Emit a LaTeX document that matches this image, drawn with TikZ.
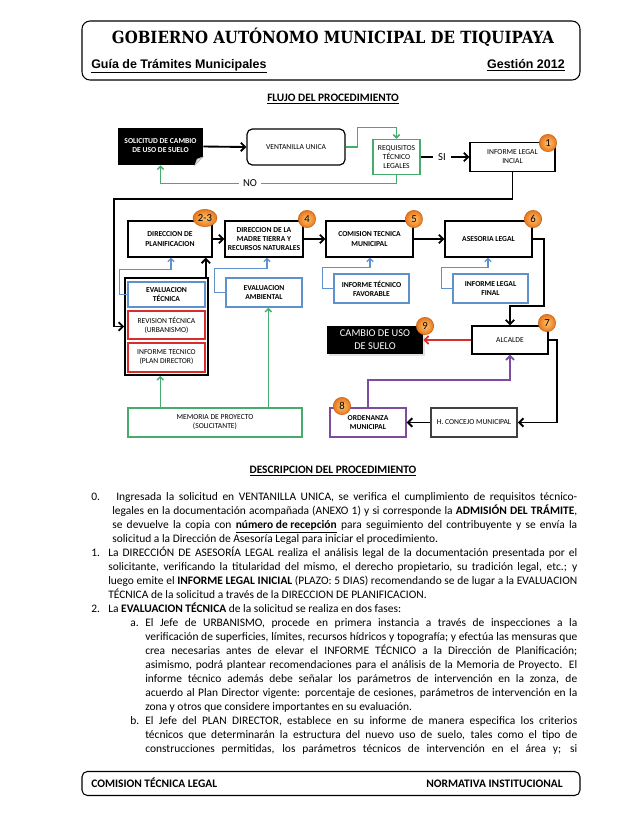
\documentclass[tikz,border=0pt]{standalone}
\usepackage{fontspec}
\setmainfont{Carlito}
\newfontfamily\arialf{Liberation Sans}
\newfontfamily\titlef{DejaVu Serif}
\usetikzlibrary{arrows.meta,shapes.geometric,calc,shadows}
\definecolor{grn}{RGB}{70,172,110}
\definecolor{blu}{RGB}{95,145,205}
\definecolor{redb}{RGB}{215,45,45}
\definecolor{pur}{RGB}{125,75,160}
\definecolor{orngin}{RGB}{255,196,110}
\definecolor{orngout}{RGB}{232,118,28}
\definecolor{dgray}{RGB}{65,65,65}
\newcommand\jl[2]{\makebox[#1pt][s]{#2}}
\newcommand\twol[2]{\begin{tabular}{@{}c@{}}#1\\#2\end{tabular}}
\tikzset{
  wh/.style 2 args={minimum width=#1*0.75pt,minimum height=#2*0.75pt},
  dfont/.style={font=\fontsize{5.7}{6.8}\selectfont},
  bfont/.style={font=\fontsize{5.7}{6.8}\selectfont\bfseries},
  kbox/.style={draw=black,line width=0.9pt,fill=white,inner sep=0pt,align=center,dfont},
  kbbox/.style={kbox,bfont},
  bbox/.style={draw=blu,line width=1.1pt,fill=white,inner sep=0pt,align=center,bfont},
  gbox/.style={draw=grn,line width=1.1pt,fill=white,inner sep=0pt,align=center,dfont},
  rbox/.style={draw=redb,line width=1.1pt,fill=white,inner sep=0pt,align=center,dfont},
  pbox/.style={draw=pur,line width=1.1pt,fill=white,inner sep=0pt,align=center,bfont},
  cbox/.style={draw=dgray,line width=1.3pt,fill=white,inner sep=0pt,align=center,dfont},
  karr/.style={draw=black,line width=1.4pt,-{Straight Barb[length=3.2pt,width=6.4pt]}},
  garr/.style={draw=grn,line width=1.1pt,-{Straight Barb[length=2.4pt,width=4.8pt]}},
  barr/.style={draw=blu,line width=1pt,-{Straight Barb[length=2.4pt,width=4.8pt]}},
  rarr/.style={draw=redb,line width=1.4pt,-{Straight Barb[length=3pt,width=6pt]}},
  parr/.style={draw=pur,line width=1.4pt,-{Straight Barb[length=3pt,width=6pt]}},
  badge/.style={circle,minimum size=13pt,inner sep=0pt,inner color=orngin,outer color=orngout,draw={rgb,255:red,200;green,100;blue,25},line width=0.4pt,font=\fontsize{8}{8}\selectfont},
  lbl/.style={fill=white,inner xsep=3pt,inner ysep=1pt,font=\fontsize{8}{9}\selectfont},
  tl/.style={anchor=base west,inner sep=0pt,font=\fontsize{8.6}{10.5}\selectfont},
  hd/.style={anchor=base,inner sep=0pt,font=\fontsize{8.5}{10}\selectfont\bfseries},
  ft/.style={inner sep=0pt,font=\fontsize{8.6}{10}\selectfont\bfseries}
}
\begin{document}
\begin{tikzpicture}[x=0.75pt,y=-0.75pt]
\fill[white] (0,0) rectangle (638,826);
\useasboundingbox (0,0) rectangle (638,826);

% ---------- header ----------
\node[draw=black,line width=0.8pt,rounded corners=6pt,wh={498}{59}] (hdr) at (331,50.5) {};
\node[anchor=base,inner sep=0pt] (title) at (333,43) {\scalebox{1}[1.12]{\resizebox{331.5pt}{!}{\titlef\bfseries GOBIERNO AUTÓNOMO MUNICIPAL DE TIQUIPAYA}}};
\node[anchor=base west,inner sep=0pt,font=\arialf\bfseries\fontsize{9.35}{11}\selectfont] (guia) at (91,68) {\underline{Guía de Trámites Municipales}};
\node[anchor=base east,inner sep=0pt,font=\arialf\bfseries\fontsize{9.35}{11}\selectfont] (gest) at (565,68) {\underline{Gestión 2012}};
\node[hd] (flujo) at (333,101) {\underline{FLUJO DEL PROCEDIMIENTO}};

% ---------- flow nodes ----------
\node[fill=black,text=white,inner sep=0pt,align=center,bfont,wh={85}{37}] (sol) at (160.5,146.5) {\raisebox{2.2pt}{\twol{SOLICITUD DE CAMBIO}{DE USO DE SUELO}}};
\fill[white] ($(sol.south east)+(0.6,-9)$) -- ($(sol.south east)+(0.6,0.6)$) -- ($(sol.south east)+(-9,0.6)$) -- cycle;
\fill[gray!25,draw=gray!60,line width=0.3pt] ($(sol.south east)+(0,-8.5)$) -- ($(sol.south east)+(-8.5,0)$) -- ($(sol.south east)+(-6.2,-6.2)$) -- cycle;

\node[kbox,rounded corners=4pt,wh={98}{36}] (ven) at (296,147) {VENTANILLA UNICA};
\node[gbox,wh={47}{35}] (req) at (396.5,157) {REQUISITOS\\TÉCNICO\\LEGALES};
\node[kbox,wh={85}{29}] (ilg) at (512.5,157) {INFORME LEGAL\\INCIAL};

\node[kbbox,wh={84}{36}] (plan) at (170,239) {DIRECCION DE\\PLANIFICACION};
\node[kbbox,wh={78}{36}] (madre) at (264,239) {DIRECCION DE LA\\MADRE TIERRA Y\\RECURSOS NATURALES};
\node[kbbox,wh={87}{36}] (comi) at (369.5,239) {COMISION TECNICA\\MUNICIPAL};
\node[kbbox,wh={87}{36}] (ases) at (488.5,239) {ASESORIA LEGAL};

\node[draw=black,line width=1.2pt,fill=white,inner sep=0pt,wh={83}{97}] (grp) at (166.5,326.5) {};
\node[bbox,wh={77}{25}] (evt) at (166.5,294.5) {EVALUACION\\TÉCNICA};
\node[rbox,wh={77}{28}] (rev) at (166.5,325) {REVISION TÉCNICA\\(URBANISMO)};
\node[rbox,wh={77}{29}] (itc) at (166.5,357.5) {INFORME TECNICO\\(PLAN DIRECTOR)};
\node[bbox,wh={76}{29}] (amb) at (264,292.5) {EVALUACION\\AMBIENTAL};
\node[bbox,wh={75}{29}] (fav) at (371.5,288.5) {INFORME TÉCNICO\\FAVORABLE};
\node[bbox,wh={75}{29}] (fin) at (490.5,288.5) {INFORME LEGAL\\FINAL};

\node[gbox,wh={174}{29}] (mem) at (215,422.5) {MEMORIA DE PROYECTO\\(SOLICITANTE)};
\node[fill=black,text=white,inner sep=0pt,align=center,wh={96}{28},font=\fontsize{7.8}{9.6}\selectfont,drop shadow={shadow xshift=1.2pt,shadow yshift=-1.2pt,fill=gray!45}] (cam) at (375,340) {CAMBIO DE USO\\DE SUELO};
\node[kbox,wh={76}{28}] (alc) at (510,340) {ALCALDE};
\node[cbox,wh={86}{29}] (con) at (474,422.5) {H. CONCEJO MUNICIPAL};
\node[pbox,wh={76}{29}] (ord) at (368,422.5) {ORDENANZA\\MUNICIPAL};

% ---------- connectors ----------
\draw[karr] (sol.east) -- (ven.west);
\draw[garr] (ven.east) -- ++(12,0) |- ($(req.north)+(0,-11.5)$) -- (req.north);
\draw[garr] (req.south) -- ++(0,8.5) -| (sol.south);
\node[lbl] (no) at (250,183) {NO};
\draw[karr] (req.east) -- (ilg.west);
\node[lbl,inner xsep=4pt] (si) at (442,157) {SI};

\coordinate (c1) at (114,199);
\draw[karr] (ilg.south) |- (c1) |- (grp.west);
\draw[karr] (plan.east) -- (madre.west);
\draw[karr] (madre.east) -- (comi.west);
\draw[karr] (comi.east) -- (ases.west);
\draw[karr] (ases.east) -- ++(11,0) |- ($(alc.north)+(0,-19)$) -- (alc.north);
\coordinate (gt) at ($(grp.north east)+(-3,0)$);
\draw[karr] (gt) -- (gt |- plan.south);

\draw[barr] (evt.west) -- ++(-8,0) |- ($(plan.south)+(1,12)$) -- ($(plan.south)+(1,0)$);
\draw[barr] (amb.west) -- ++(-11,0) |- ($(madre.south)+(3,11)$) -- ($(madre.south)+(3,0)$);
\draw[barr] (fav.west) -- ++(-11,0) |- ($(comi.south)+(0.5,10)$) -- ($(comi.south)+(0.5,0)$);
\draw[barr] (fin.west) -- ++(-11,0) |- ($(ases.south)+(-0.5,10)$) -- ($(ases.south)+(-0.5,0)$);

\coordinate (m1) at ($(mem.north west)+(33,0)$);
\draw[garr] (m1) -- (m1 |- grp.south);
\coordinate (m2) at ($(mem.north west)+(141,0)$);
\draw[garr] (m2) -- (m2 |- amb.south);

\draw[rarr] (alc.west) -- (cam.east);
\draw[karr] (alc.east) -- ++(8,0) |- (con.east);
\draw[karr] (con.west) -- (ord.east);
\draw[parr] (ord.north) -- ++(0,-27) -| (alc.south);

% ---------- badges ----------
\node[badge] (n1) at (548,143) {1};
\node[badge,ellipse,minimum width=18pt,minimum height=13pt] (n23) at (205,218) {2-3};
\node[badge] (n4) at (307,219) {4};
\node[badge] (n5) at (414,219) {5};
\node[badge] (n6) at (533,219) {6};
\node[badge] (n7) at (547,323) {7};
\node[badge] (n8) at (342,406) {8};
\node[badge] (n9) at (425,326) {9};

% ---------- description ----------
\node[hd] (desc) at (333,473) {\underline{DESCRIPCION DEL PROCEDIMIENTO}};

\node[tl] (i0) at (91,500.5) {0.};
\node[tl] (t00) at (116,500.5) {\jl{345.75}{Ingresada la solicitud en VENTANILLA UNICA, se verifica el cumplimiento de requisitos técnico-}};
\node[tl] (t01) at (112,514.5) {\jl{348.75}{legales en la documentación acompañada (ANEXO 1) y si corresponde la \textbf{ADMISIÓN DEL TRÁMITE},}};
\node[tl] (t02) at (112,528.5) {\jl{348.75}{se devuelve la copia con \underline{\textbf{número de recepción}} para seguimiento del contribuyente y se envía la}};
\node[tl] (t03) at (112,542.5) {solicitud a la Dirección de Asesoría Legal para iniciar el procedimiento.};

\node[tl] (i1) at (91,556.5) {1.};
\node[tl] (t10) at (108,556.5) {\jl{351.75}{La DIRECCIÓN DE ASESORÍA LEGAL realiza el análisis legal de la documentación presentada por el}};
\node[tl] (t11) at (108,570.5) {\jl{351.75}{solicitante, verificando la titularidad del mismo, el derecho propietario, su tradición legal, etc.; y}};
\node[tl] (t12) at (108,584.5) {\jl{351.75}{luego emite el \textbf{INFORME LEGAL INICIAL} (PLAZO: 5 DIAS) recomendando se de lugar a la EVALUACION}};
\node[tl] (t13) at (108,598.5) {TÉCNICA de la solicitud a través de la DIRECCION DE PLANIFICACION.};

\node[tl] (i2) at (91,612.5) {2.};
\node[tl] (t20) at (108,612.5) {La \textbf{EVALUACION TÉCNICA} de la solicitud se realiza en dos fases:};

\node[tl] (ia) at (130,626.5) {a.};
\node[tl] (ta0) at (145,626.5) {\jl{324}{El Jefe de URBANISMO, procede en primera instancia a través de inspecciones a la}};
\node[tl] (ta1) at (145,640.5) {\jl{324}{verificación de superficies, límites, recursos hídricos y topografía; y efectúa las mensuras que}};
\node[tl] (ta2) at (145,654.5) {\jl{324}{crea necesarias antes de elevar el INFORME TÉCNICO a la Dirección de Planificación;}};
\node[tl] (ta3) at (145,668.5) {\jl{324}{asimismo, podrá plantear recomendaciones para el análisis de la Memoria de Proyecto. El}};
\node[tl] (ta4) at (145,682.5) {\jl{324}{informe técnico además debe señalar los parámetros de intervención en la zonza, de}};
\node[tl] (ta5) at (145,696.5) {\jl{324}{acuerdo al Plan Director vigente: porcentaje de cesiones, parámetros de intervención en la}};
\node[tl] (ta6) at (145,710.5) {zona y otros que considere importantes en su evaluación.};

\node[tl] (ib) at (130,724.5) {b.};
\node[tl] (tb0) at (145,724.5) {\jl{324}{El Jefe del PLAN DIRECTOR, establece en su informe de manera especifica los criterios}};
\node[tl] (tb1) at (145,738.5) {\jl{324}{técnicos que determinarán la estructura del nuevo uso de suelo, tales como el tipo de}};
\node[tl] (tb2) at (145,752.5) {\jl{324}{construcciones permitidas, los parámetros técnicos de intervención en el área y; si}};

% ---------- footer ----------
\node[draw=black,line width=0.8pt,rounded corners=4pt,wh={498}{24}] (ftr) at (331,783.5) {};
\node[ft,anchor=base west] (fl) at (91,787) {COMISION TÉCNICA LEGAL};
\node[ft,anchor=base east] (fr) at (563,787) {NORMATIVA INSTITUCIONAL};
\end{tikzpicture}
\end{document}
